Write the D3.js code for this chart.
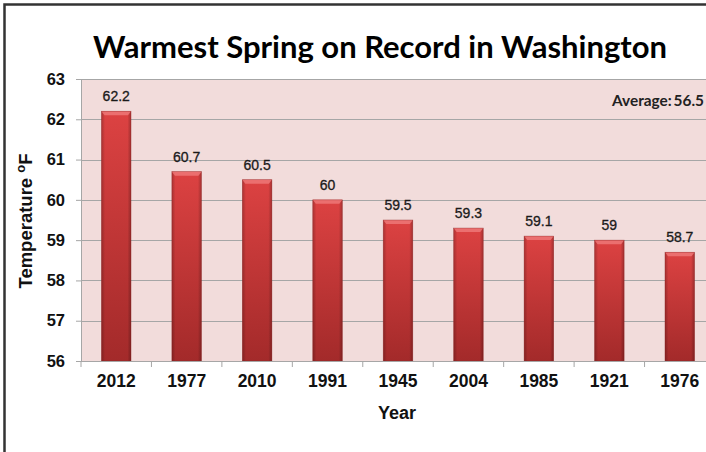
<!DOCTYPE html>
<html><head><meta charset="utf-8">
<script src="https://cdn.jsdelivr.net/npm/d3@7"></script>
<style>html,body{margin:0;padding:0;background:#fff;overflow:hidden}</style>
</head><body>
<svg id="c" width="706" height="452"></svg>
<script>
const years = ["2012","1977","2010","1991","1945","2004","1985","1921","1976"];
const temps = [62.2, 60.7, 60.5, 60, 59.5, 59.3, 59.1, 59, 58.7];
const yTicks = [56,57,58,59,60,61,62,63];
const titleText = "Warmest Spring on Record in Washington";
const averageText = "Average:\u200956.5";

const svg = d3.select("#c");
const m = {left:81, right:715, top:79, bottom:361};

const defs = svg.append("defs");
const gv = defs.append("linearGradient").attr("id","gv").attr("x1",0).attr("y1",0).attr("x2",0).attr("y2",1);
gv.append("stop").attr("offset","0%").attr("stop-color","#dc4242");
gv.append("stop").attr("offset","100%").attr("stop-color","#a32a2a");
const gh = defs.append("linearGradient").attr("id","gh").attr("x1",0).attr("y1",0).attr("x2",1).attr("y2",0);
gh.append("stop").attr("offset","0%").attr("stop-color","#000").attr("stop-opacity",0.22);
gh.append("stop").attr("offset","12%").attr("stop-color","#000").attr("stop-opacity",0.0);
gh.append("stop").attr("offset","88%").attr("stop-color","#000").attr("stop-opacity",0.0);
gh.append("stop").attr("offset","100%").attr("stop-color","#000").attr("stop-opacity",0.25);

// outer frame
svg.append("rect").attr("x",4.5).attr("y",4.5).attr("width",760).attr("height",500)
  .attr("fill","none").attr("stroke","#333").attr("stroke-width",2.5);

const x = d3.scaleBand().domain(years).range([m.left, m.right]).paddingInner(0.58).paddingOuter(0.29);
const y = d3.scaleLinear().domain([56,63]).range([m.bottom, m.top]);

// plot bg
svg.append("rect").attr("x",m.left).attr("y",m.top).attr("width",m.right-m.left).attr("height",m.bottom-m.top)
  .attr("fill","#f2dcdb");

// grid
svg.append("g").selectAll("line").data(yTicks).join("line")
  .attr("x1",m.left).attr("x2",m.right)
  .attr("y1",d=>Math.round(y(d))+0.5).attr("y2",d=>Math.round(y(d))+0.5)
  .attr("stroke","#a6a6a6").attr("stroke-width",1.2);

// bars
const bars = svg.append("g");
years.forEach((yr,i)=>{
  const bx = x(yr), bw = x.bandwidth(), by = y(temps[i]), bh = y(56)-y(temps[i]);
  bars.append("rect").attr("x",bx).attr("y",by).attr("width",bw).attr("height",bh).attr("fill","url(#gv)");
  bars.append("rect").attr("x",bx).attr("y",by).attr("width",bw).attr("height",bh).attr("fill","url(#gh)");
  bars.append("path").attr("d",`M${bx},${by}L${bx+bw},${by}L${bx+bw-3},${by+4}L${bx+3},${by+4}Z`).attr("fill","#ef7a7a").attr("opacity",0.8);
  bars.append("rect").attr("x",bx).attr("y",by).attr("width",bw).attr("height",bh).attr("fill","none").attr("stroke","#8a2222").attr("stroke-width",0.6).attr("stroke-opacity",0.6);
});

// value labels
svg.append("g").selectAll("text").data(temps).join("text")
  .attr("x",(d,i)=>x(years[i])+x.bandwidth()/2).attr("y",d=>y(d)-10)
  .attr("text-anchor","middle").attr("font-family","Liberation Sans, Arial, sans-serif")
  .attr("font-size",14).attr("fill","#1a1a1a").attr("stroke","#1a1a1a").attr("stroke-width",0.3)
  .text(d=>d);

// y axis
const yAxis = d3.axisLeft(y).tickValues(yTicks).tickSize(5).tickPadding(11).tickFormat(d3.format("d"));
const ya = svg.append("g").attr("transform",`translate(${m.left},0)`).call(yAxis);
ya.select(".domain").attr("stroke","#a6a6a6");
ya.selectAll(".tick line").attr("stroke","#a6a6a6");
ya.selectAll("text").attr("font-family","Liberation Sans, Arial, sans-serif").attr("font-size",16.5).attr("font-weight","bold").attr("fill","#111");

// x axis
const xTickScale = d3.scaleLinear().domain([0, years.length]).range([m.left, m.right]);
const xa = svg.append("g").attr("transform",`translate(0,${m.bottom})`);
xa.append("line").attr("x1",m.left).attr("x2",m.right).attr("y1",0.5).attr("y2",0.5).attr("stroke","#a6a6a6").attr("stroke-width",1.2);
xa.selectAll("line.t").data(d3.range(years.length+1)).join("line").attr("class","t")
  .attr("x1",d=>xTickScale(d)).attr("x2",d=>xTickScale(d)).attr("y1",0).attr("y2",6).attr("stroke","#a6a6a6");
xa.selectAll("text").data(years).join("text")
  .attr("x",d=>x(d)+x.bandwidth()/2).attr("y",26)
  .attr("text-anchor","middle").attr("font-family","Liberation Sans, Arial, sans-serif")
  .attr("font-size",17.5).attr("font-weight","bold").attr("fill","#111").text(d=>d);

// axis titles
svg.append("text").attr("x",397).attr("y",419).attr("text-anchor","middle")
  .attr("font-family","Liberation Sans, Arial, sans-serif").attr("font-size",18).attr("font-weight","bold").attr("fill","#111").text("Year");
const yt = svg.append("text").attr("transform","translate(32,221) rotate(-90)").attr("text-anchor","middle")
  .attr("font-family","Liberation Sans, Arial, sans-serif").attr("font-size",18.5).attr("font-weight","bold").attr("fill","#111");
yt.append("tspan").text("Temperature ");
yt.append("tspan").attr("font-size",13).attr("dy",-7).text("o");
yt.append("tspan").attr("dy",7).text("F");

// title
const t = svg.append("text").attr("x",380).attr("y",58).attr("text-anchor","middle")
  .attr("font-family","Lato, Open Sans, sans-serif").attr("font-size",30).attr("font-weight","bold").attr("fill","#000").text(titleText);
const tw = t.node().getComputedTextLength();
t.attr("font-size", 30*574/tw);

// average
const av = svg.append("text").attr("x",704).attr("y",106).attr("text-anchor","end")
  .attr("font-family","Lato, Open Sans, sans-serif").attr("font-size",14).attr("font-weight","bold").attr("fill","#222").text(averageText);
const aw = av.node().getComputedTextLength();
av.attr("font-size", 14*92/aw);
</script>
</body></html>
